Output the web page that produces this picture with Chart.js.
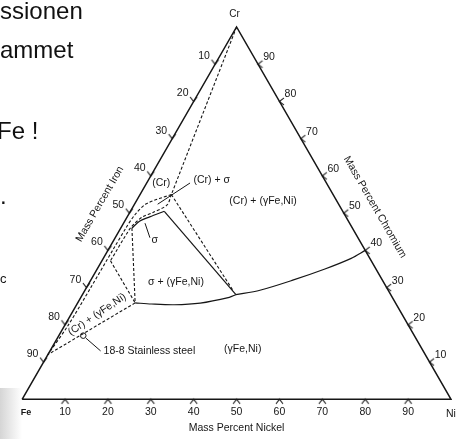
<!DOCTYPE html>
<html>
<head>
<meta charset="utf-8">
<script src="https://cdn.jsdelivr.net/npm/chart.js@4.4.1/dist/chart.umd.min.js"></script>
<style>
  html, body { margin: 0; padding: 0; background: #fff; }
  #wrap { position: relative; width: 457px; height: 439px; overflow: hidden; }
  #chart { position: absolute; left: 0; top: 0; }
  .slide { position: absolute; font-family: "Liberation Sans", Arial, sans-serif; color: #111; white-space: nowrap; }
  .shade { position: absolute; left: 0; top: 388px; width: 22px; height: 51px;
           background: linear-gradient(to right, rgba(150,150,150,0.4), rgba(150,150,150,0)); }
</style>
</head>
<body>
<div id="wrap">
  <div class="shade"></div>
  <canvas id="chart" width="457" height="439"></canvas>
  <div class="slide" style="left:0;top:-1px;font-size:24px;line-height:24px">ssionen</div>
  <div class="slide" style="left:0;top:38px;font-size:24px;line-height:24px">ammet</div>
  <div class="slide" style="left:-3px;top:119px;font-size:24px;line-height:24px">Fe !</div>
  <div class="slide" style="left:0;top:184px;font-size:24px;line-height:24px">.</div>
  <div class="slide" style="left:0;top:272px;font-size:13px;line-height:13px">c</div>
</div>
<script>
const INK = '#161616'
const FONT = '"Liberation Sans", Arial, sans-serif'

// compositions are [mass % Ni, mass % Cr], Fe is the rest
const tickValues = [10, 20, 30, 40, 50, 60, 70, 80, 90]

const apexTie = [[0, 100], [7.3, 55]]
const alphaBoundary = [[7.3, 55], [2.7, 52.5], [1.5, 49.5], [1.2, 46], [1.1, 40], [1.0, 30], [0.8, 20], [0, 12]]
const sigmaInner = [[7.3, 55], [7.7, 52.2], [5.4, 50.2], [3.6, 49.0], [2.6, 47.2], [2.2, 45.5], [2.0, 37.2]]
const sigmaInnerTie = [[2.0, 37.2], [13.4, 25.9]]
const sigmaRidge = [[35.8, 28.1], [7.9, 50.5]]
const sigmaCap = [[7.9, 50.5], [5.25, 49.0], [3.5, 47.9], [2.6, 46.0]]
const sigmaTie = [[2.6, 46.0], [13.4, 25.9]]
const crSigmaTie = [[7.3, 55], [34.8, 29.0]]
const gammaLower = [[13.4, 25.9], [17.35, 25.6], [22.75, 25.4], [28.6, 25.85], [34.6, 27.4], [35.8, 28.1]]
const gammaUpper = [[35.8, 28.1], [40.8, 29.3], [47.1, 32.0], [53.1, 35.0], [57.8, 37.85], [60, 40]]
const alphaGammaTie = [[13.4, 25.9], [0, 12]]
const steel188 = [[5.7, 17.1]]

const sigmaLeader = [[5.0, 47.3], [8.1, 43.4]]
const crSigmaLeader = [[10.1, 58.1], [5.4, 52.4]]
const steelLeader = [[6.7, 16.4], [11.8, 13.0]]

const regionLabels = [
  ['(Cr)', 3.4, 58.1, 0],
  ['(Cr) + σ', 14.8, 58.8, 0],
  ['(Cr) + (γFe,Ni)', 29.6, 53.15, 0],
  ['σ', 9.6, 42.65, 0],
  ['σ + (γFe,Ni)', 20.1, 31.55, 0],
  ['(Cr) + (γFe,Ni)', 6.1, 22.8, -34],
  ['(γFe,Ni)', 44.7, 13.5, 0]
]

const toXY = ([ni, cr]) => ({ x: ni + cr / 2, y: cr })

const line = (pts, opts = {}) => ({
  data: pts.map(toXY),
  showLine: true,
  borderColor: INK,
  borderWidth: 1.2,
  pointRadius: 0,
  tension: 0,
  fill: false,
  ...opts
})
const dashed = (pts, opts = {}) => line(pts, { borderDash: [3, 2], borderWidth: 1.1, ...opts })

function chevron() {
  const c = document.createElement('canvas')
  c.width = 11
  c.height = 11
  const g = c.getContext('2d')
  g.strokeStyle = INK
  g.lineWidth = 1.1
  g.beginPath()
  g.moveTo(2, 10)
  g.lineTo(5.5, 5.5)
  g.lineTo(9, 10)
  g.stroke()
  return c
}
const chev = chevron()

const ticks = (pts, rotation) => ({
  data: pts.map(toXY),
  showLine: false,
  pointStyle: chev,
  pointRadius: 4,
  pointRotation: rotation
})

const labelPlugin = {
  id: 'ternaryLabels',
  afterDatasetsDraw(chart) {
    const { ctx, scales: { x, y } } = chart
    const at = (ni, cr) => [x.getPixelForValue(ni + cr / 2), y.getPixelForValue(cr)]
    const text = (str, px, py, size, rot = 0, align = 'center', weight = '') => {
      ctx.save()
      ctx.translate(px, py)
      ctx.rotate(rot * Math.PI / 180)
      ctx.font = `${weight} ${size}px ${FONT}`
      ctx.textAlign = align
      ctx.textBaseline = 'middle'
      ctx.fillStyle = INK
      ctx.fillText(str, 0, 0)
      ctx.restore()
    }

    tickValues.forEach(t => {
      let [px, py] = at(t, 0)
      text(String(t), px, py + 13, 10.5)
      ;[px, py] = at(0, 100 - t)
      text(String(t), px - 11, py - 8, 10.5)
      ;[px, py] = at(100 - t, t)
      text(String(t), px + 11, py - 7, 10.5)
    })

    let [px, py] = at(0, 100)
    text('Cr', px - 2, py - 13, 10)
    ;[px, py] = at(0, 0)
    text('Fe', px + 4, py + 13, 9, 0, 'center', 'bold')
    ;[px, py] = at(100, 0)
    text('Ni', px - 5, py + 14.5, 10.5, 0, 'left')

    ;[px, py] = at(50, 0)
    text('Mass Percent Nickel', px, py + 28.5, 10.5)
    ;[px, py] = at(0, 48.4)
    text('Mass Percent Iron', px - 26, py - 15, 10.5, -60)
    ;[px, py] = at(52.4, 47.6)
    text('Mass Percent Chromium', px + 26, py - 15, 10.5, 60)

    regionLabels.forEach(([str, ni, cr, rot]) => {
      const [lx, ly] = at(ni, cr)
      text(str, lx, ly, 10.5, rot)
    })
    const [sx, sy] = at(steelLeader[1][0], steelLeader[1][1])
    text('18-8 Stainless steel', sx + 3, sy, 10.5, 0, 'left')
  }
}

new Chart(document.getElementById('chart'), {
  type: 'scatter',
  data: {
    datasets: [
      line([[0, 0], [100, 0], [0, 100], [0, 0]], { borderWidth: 1.5 }),
      ticks(tickValues.map(t => [t, 0]), 0),
      ticks(tickValues.map(t => [0, 100 - t]), 180),
      ticks(tickValues.map(t => [100 - t, t]), 270),
      dashed(apexTie),
      dashed(alphaBoundary, { tension: 0.3 }),
      dashed(sigmaInner, { tension: 0.3 }),
      dashed(sigmaInnerTie),
      dashed(sigmaTie),
      dashed(crSigmaTie),
      dashed(alphaGammaTie),
      line(sigmaRidge),
      line(sigmaCap, { tension: 0.3 }),
      line(gammaLower, { tension: 0.3 }),
      line(gammaUpper, { tension: 0.3 }),
      line(sigmaLeader, { borderWidth: 1 }),
      line(crSigmaLeader, { borderWidth: 1 }),
      line(steelLeader, { borderWidth: 1 }),
      {
        data: steel188.map(toXY),
        showLine: false,
        pointStyle: 'circle',
        pointRadius: 2.8,
        pointBorderWidth: 1,
        pointBackgroundColor: '#fff',
        pointBorderColor: INK
      }
    ]
  },
  options: {
    responsive: false,
    animation: false,
    layout: { padding: 0 },
    plugins: { legend: { display: false }, tooltip: { enabled: false } },
    scales: {
      x: { type: 'linear', min: -3.991, max: 100.228, display: false },
      y: { type: 'linear', min: -9.318, max: 105.906, display: false }
    }
  },
  plugins: [labelPlugin]
})
</script>
</body>
</html>
